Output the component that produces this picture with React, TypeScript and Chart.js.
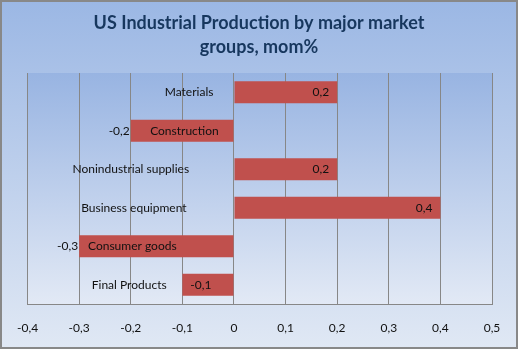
import React, { useEffect, useRef } from "react";
import { Chart, registerables } from "chart.js";

Chart.register(...registerables);

const categories = [
  "Materials",
  "Construction",
  "Nonindustrial supplies",
  "Business equipment",
  "Consumer goods",
  "Final Products",
];
const values = [0.2, -0.2, 0.2, 0.4, -0.3, -0.1];
const titleLines = ["US Industrial Production by major market", "groups, mom%"];
const xMin = -0.4;
const xMax = 0.5;
const xStep = 0.1;

// label layout (not data): where value labels sit, and category label centres in axis units
const valueLabelPlacement = ["inside", "outside", "inside", "inside", "outside", "inside"];
const categoryLabelCenters = [-0.087, -0.096, -0.2, -0.194, -0.197, -0.203];

const FONT = "Lato, 'Open Sans', sans-serif";

function fmt(v: number): string {
  const r = Math.round(v * 10) / 10;
  if (r === 0) return "0";
  return r.toFixed(1).replace(".", ",");
}

const decorPlugin = {
  id: "decor",
  beforeDraw(chart: any) {
    const { ctx, width, height, chartArea } = chart;
    ctx.save();
    ctx.fillStyle = "#ffffff";
    ctx.fillRect(0, 0, width, height);
    const g = ctx.createLinearGradient(0, 0, 0, 348);
    g.addColorStop(0, "#9BB7E4");
    g.addColorStop(1, "#E0E8F4");
    ctx.fillStyle = g;
    ctx.fillRect(1, 1, 516, 347);
    const pg = ctx.createLinearGradient(0, chartArea.top, 0, chartArea.bottom);
    pg.addColorStop(0, "#98B4E2");
    pg.addColorStop(1, "#E2E9F5");
    ctx.fillStyle = pg;
    ctx.fillRect(chartArea.left, chartArea.top, chartArea.right - chartArea.left, chartArea.bottom - chartArea.top);
    ctx.strokeStyle = "#888888";
    ctx.lineWidth = 2;
    ctx.strokeRect(1, 1, 516, 347);
    // title
    ctx.fillStyle = "#17375E";
    ctx.font = "bold 18px " + FONT;
    ctx.textAlign = "center";
    ctx.textBaseline = "middle";
    ctx.fillText(titleLines[0], 259, 23);
    ctx.fillText(titleLines[1], 259, 47);
    ctx.restore();
  },
  afterDatasetsDraw(chart: any) {
    const { ctx } = chart;
    const meta = chart.getDatasetMeta(0);
    const xs = chart.scales.x;
    ctx.save();
    ctx.font = "12px " + FONT;
    ctx.fillStyle = "#111111";
    ctx.textBaseline = "middle";
    meta.data.forEach((bar: any, i: number) => {
      const v = values[i];
      const label = fmt(v);
      const y = bar.y;
      if (v >= 0) {
        ctx.textAlign = "right";
        ctx.fillText(label, bar.x - 8, y);
      } else if (valueLabelPlacement[i] === "outside") {
        ctx.textAlign = "right";
        ctx.fillText(label, bar.x - 1, y);
      } else {
        ctx.textAlign = "left";
        ctx.fillText(label, bar.x + 8, y);
      }
      ctx.textAlign = "center";
      ctx.fillText(categories[i], xs.getPixelForValue(categoryLabelCenters[i]), y);
    });
    ctx.restore();
  },
};

export default function App() {
  const ref = useRef<HTMLCanvasElement>(null);
  useEffect(() => {
    document.body.style.margin = "0";
    const chart = new Chart(ref.current as HTMLCanvasElement, {
      type: "bar",
      data: {
        labels: categories,
        datasets: [
          {
            data: values,
            backgroundColor: "#C0504D",
            borderWidth: 0,
            categoryPercentage: 1,
            barPercentage: 0.565,
          },
        ],
      },
      options: {
        indexAxis: "y",
        animation: false,
        responsive: false,
        devicePixelRatio: 1,
        layout: { padding: { top: 73, left: 26, right: 27, bottom: 5 } },
        plugins: {
          legend: { display: false },
          title: { display: false },
          tooltip: { enabled: false },
        },
        scales: {
          y: { display: false },
          x: {
            type: "linear",
            min: xMin,
            max: xMax,
            afterFit(scale: any) {
              scale.height = 44;
            },
            afterBuildTicks(scale: any) {
              const t = [];
              const n = Math.round((xMax - xMin) / xStep);
              for (let k = 0; k <= n; k++) t.push({ value: xMin + k * xStep });
              scale.ticks = t;
            },
            grid: { color: "#878787", lineWidth: 1, drawTicks: false },
            border: { display: true, color: "#878787", width: 1 },
            ticks: {
              padding: 17,
              color: "#111111",
              font: { family: FONT, size: 12 },
              maxRotation: 0,
              autoSkip: false,
              callback: (v: any) => fmt(Number(v)),
            },
          },
        },
      },
      plugins: [decorPlugin],
    } as any);
    return () => chart.destroy();
  }, []);
  return (
    <div style={{ position: "fixed", left: 0, top: 0, width: 519, height: 353, background: "#fff" }}>
      <canvas ref={ref} width={519} height={353} style={{ width: 519, height: 353, display: "block" }} />
    </div>
  );
}
